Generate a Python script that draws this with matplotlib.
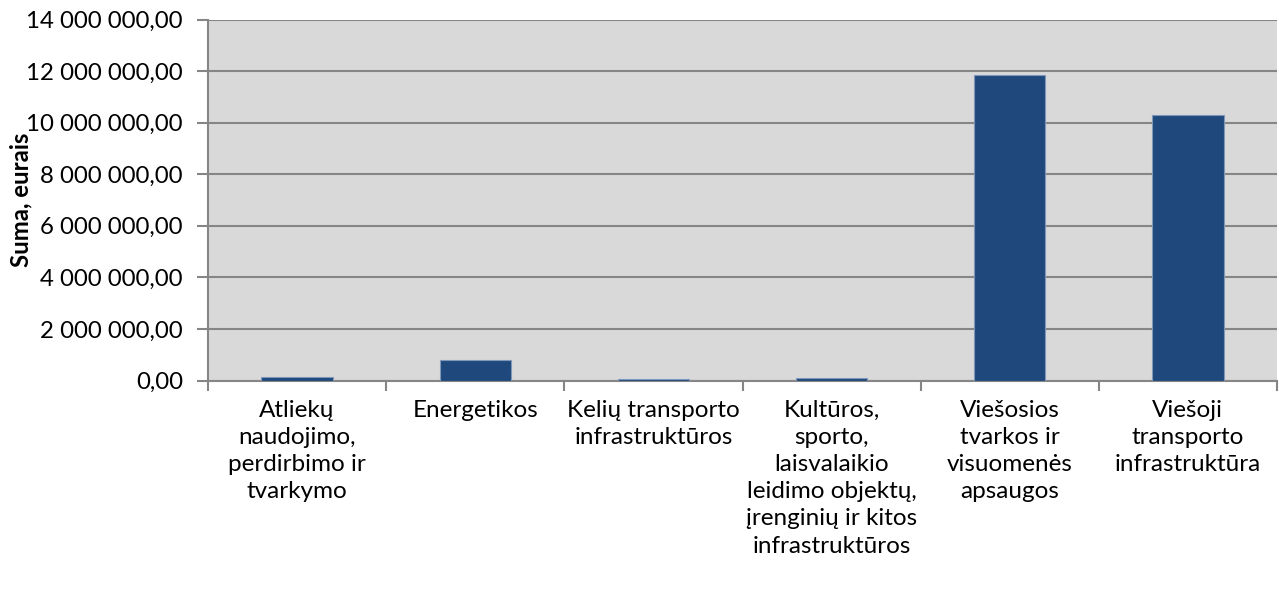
import matplotlib.pyplot as plt
import numpy as np
from matplotlib.ticker import FuncFormatter

plt.rcParams['font.family'] = ['Lato', 'DejaVu Sans']

kategorijos = ['Atliekų\nnaudojimo,\nperdirbimo ir\ntvarkymo',
               'Energetikos',
               'Kelių transporto\ninfrastruktūros',
               'Kultūros,\nsporto,\nlaisvalaikio\nleidimo objektų,\nįrenginių ir kitos\ninfrastruktūros',
               'Viešosios\ntvarkos ir\nvisuomenės\napsaugos',
               'Viešoji\ntransporto\ninfrastruktūra']
sumos = [140000, 780000, 50000, 80000, 11840000, 10280000]

fig = plt.figure(figsize=(12.79, 5.92), dpi=100)
ax = fig.add_axes([208 / 1279, 1 - 380.5 / 592, (1277 - 208) / 1279, 361 / 592])
ax.set_facecolor('#D9D9D9')

x = np.arange(len(kategorijos))
ax.bar(x, sumos, width=0.4, color='#1F497D', edgecolor='#7F96B8', linewidth=0.8, zorder=3)

ax.set_xlim(-0.5, len(kategorijos) - 0.5)
ax.set_ylim(0, 14000000)
ax.set_yticks(np.arange(0, 14000001, 2000000))
ax.yaxis.set_major_formatter(FuncFormatter(lambda v, p: f'{v:,.2f}'.replace(',', ' ').replace('.', ',')))
ax.grid(axis='y', color='#868686', linewidth=1.5, zorder=1)

ax.set_xticks(x)
ax.set_xticklabels(kategorijos, fontsize=17.5, linespacing=1.36)
ax.set_xticks(np.arange(-0.5, len(kategorijos)), minor=True)
ax.tick_params(axis='x', which='major', length=0, pad=14)
ax.tick_params(axis='x', which='minor', length=7, width=1.5, color='#868686')
ax.tick_params(axis='y', length=8, width=1.5, color='#868686', labelsize=17.3, pad=10)

for s in ['top', 'right']:
    ax.spines[s].set_visible(False)
for s in ['left', 'bottom']:
    ax.spines[s].set_color('#868686')
    ax.spines[s].set_linewidth(1.5)

ax.set_ylabel('Suma, eurais', fontsize=17.2, fontweight='bold')
ax.yaxis.set_label_coords(-0.164, 0.5)

fig.savefig('out.png', dpi=100)
